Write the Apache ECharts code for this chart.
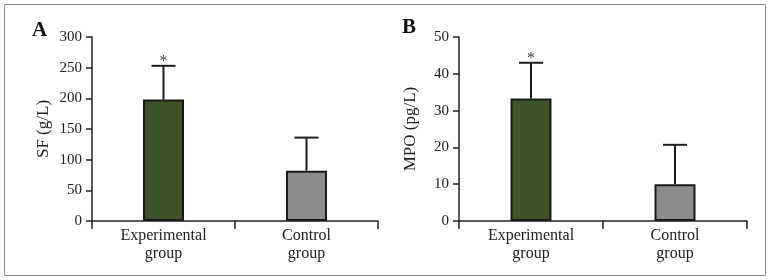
<!DOCTYPE html>
<html>
<head>
<meta charset="utf-8">
<script src="https://cdn.jsdelivr.net/npm/echarts@6/dist/echarts.min.js"></script>
<style>
  html, body { margin: 0; padding: 0; background: #fff; }
  #chart { width: 770px; height: 280px; }
</style>
</head>
<body>
<div id="chart"></div>
<script>
// groups on the x axis
const categories = ['Experimental\ngroup', 'Control\ngroup']
// panel A: SF (g/L), bar mean and error bar top
const sfMean = [198, 82]
const sfUpper = [253, 136]
// panel B: MPO (pg/L)
const mpoMean = [33.3, 10]
const mpoUpper = [43, 20.7]
// significance marks above the error bars
const sigMarks = ['*', '']

const serif = 'Liberation Serif, Times New Roman, serif'
const barColors = ['#3c5427', '#8c8c8c']

const errorBar = (params, api) => {
    let x = api.value(0)
    let base = api.coord([x, api.value(1)])
    let top = api.coord([x, api.value(2)])
    let half = 12
    let style = { stroke: '#1e1e1e', lineWidth: 2 }
    return {
        type: 'group',
        children: [
            { type: 'line', shape: { x1: base[0], y1: base[1], x2: top[0], y2: top[1] }, style: style },
            { type: 'line', shape: { x1: top[0] - half, y1: top[1], x2: top[0] + half, y2: top[1] }, style: style },
            {
                type: 'text',
                style: {
                    text: api.value(3) || '',
                    x: top[0], y: top[1] + 4,
                    align: 'center', verticalAlign: 'bottom',
                    fill: '#444', font: '16px ' + serif
                }
            }
        ]
    }
}

const makeX = (gridIndex) => ({
    type: 'category',
    gridIndex: gridIndex,
    data: categories,
    axisLine: { lineStyle: { color: '#222', width: 1.5 } },
    axisTick: { show: true, length: 8, lineStyle: { color: '#222', width: 1.5 } },
    axisLabel: { color: '#222', fontFamily: serif, fontSize: 16, lineHeight: 18, margin: 6 }
})

const makeY = (gridIndex, name, max, interval) => ({
    type: 'value',
    gridIndex: gridIndex,
    min: 0,
    max: max,
    interval: interval,
    name: name,
    nameLocation: 'middle',
    nameGap: 40,
    nameTextStyle: { color: '#222', fontFamily: serif, fontSize: 17 },
    splitLine: { show: false },
    axisLine: { show: true, lineStyle: { color: '#222', width: 1.5 } },
    axisTick: { show: true, length: 6, lineStyle: { color: '#222', width: 1.5 } },
    axisLabel: { color: '#222', fontFamily: serif, fontSize: 15, margin: 10 }
})

const barSeries = (idx, values) => ({
    type: 'bar',
    xAxisIndex: idx,
    yAxisIndex: idx,
    barWidth: 41,
    data: values.map((v, i) => ({
        value: v,
        itemStyle: { color: barColors[i], borderColor: '#1a1a1a', borderWidth: 2 }
    }))
})

const errSeries = (idx, mean, upper) => ({
    type: 'custom',
    xAxisIndex: idx,
    yAxisIndex: idx,
    renderItem: errorBar,
    z: 3,
    data: categories.map((c, i) => [i, mean[i], upper[i], sigMarks[i]])
})

let chart = echarts.init(document.getElementById('chart'))
chart.setOption({
    animation: false,
    backgroundColor: '#fff',
    grid: [
        { left: 92, top: 37, width: 286, height: 184 },
        { left: 459, top: 37, width: 288, height: 184 }
    ],
    xAxis: [makeX(0), makeX(1)],
    yAxis: [makeY(0, 'SF (g/L)', 300, 50), makeY(1, 'MPO (pg/L)', 50, 10)],
    series: [
        barSeries(0, sfMean),
        errSeries(0, sfMean, sfUpper),
        barSeries(1, mpoMean),
        errSeries(1, mpoMean, mpoUpper)
    ],
    graphic: [
        {
            type: 'rect',
            shape: { x: 4.5, y: 4.5, width: 761, height: 271 },
            style: { fill: 'none', stroke: '#8a8a8a', lineWidth: 1 }
        },
        {
            type: 'text', left: 32, top: 20,
            style: { text: 'A', fill: '#111', font: 'bold 21px ' + serif }
        },
        {
            type: 'text', left: 402, top: 17,
            style: { text: 'B', fill: '#111', font: 'bold 21px ' + serif }
        }
    ]
})
</script>
</body>
</html>
